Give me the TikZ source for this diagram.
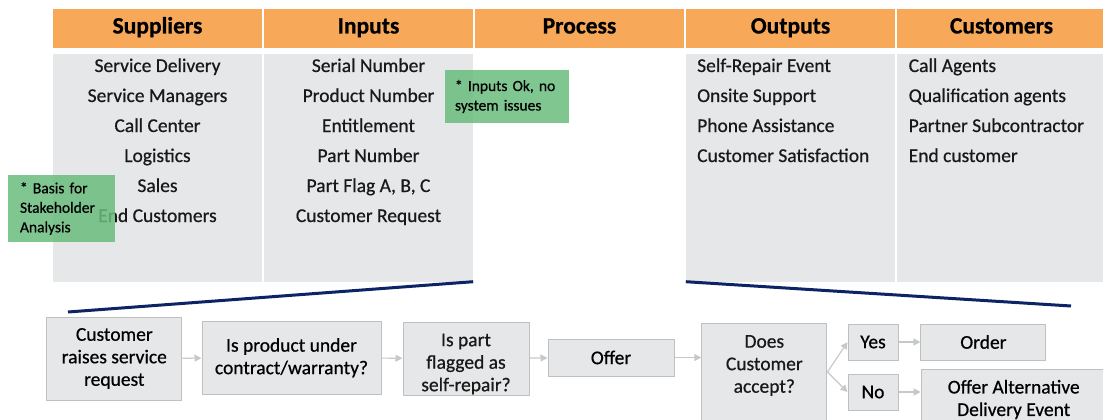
\documentclass[tikz,border=0pt]{standalone}
\usepackage{fontspec}
\setmainfont{Carlito}[FakeBold=0.6]
\usetikzlibrary{arrows.meta}

\definecolor{hdrorange}{RGB}{247,169,89}
\definecolor{cellgray}{RGB}{229,231,233}
\definecolor{flowgray}{RGB}{230,231,232}
\definecolor{flowedge}{RGB}{192,192,192}
\definecolor{notegreen}{RGB}{106,188,126}
\definecolor{linknavy}{RGB}{12,36,102}
\definecolor{arrowgray}{RGB}{200,200,200}

\tikzset{
hdr/.style={
  rectangle,
  fill=hdrorange,
  draw=none,
  inner sep=0pt,
  minimum width=209, minimum height=39,
  text height=15pt, text depth=6pt,
  font=\bfseries\fontsize{23.5}{26}\selectfont,
},
cell/.style={
  rectangle,
  fill=cellgray,
  draw=none,
  minimum width=209, minimum height=227.5,
},
item/.style={
  draw=none,
  inner sep=0em,
  anchor=base,
  text=black!90,
  font=\fontsize{19.5}{22.5}\selectfont,
},
note/.style={
  rectangle,
  fill=notegreen,
  fill opacity=0.85,
  text opacity=1,
  align=left,
  inner ysep=0,
  font=\fontsize{15.5}{19.5}\selectfont,
},
flow/.style={
  rectangle,
  draw=flowedge,
  fill=flowgray,
  line width=1,
  align=center,
  inner sep=0em,
  font=\fontsize{19.5}{22.5}\selectfont,
},
link/.style={draw=linknavy, line width=3},
}

\begin{document}
\begin{tikzpicture}[x=1pt, y=-1pt, >={Triangle[length=7pt, width=7pt]},
  flowarrow/.style={draw=arrowgray, line width=1.2, ->}]
\useasboundingbox (0,0) rectangle (1103,420);
\clip (0,0) rectangle (1103,420);

%header row
\foreach \name/\title [count=\i] in {sup/Suppliers, inp/Inputs, proc/Process, out/Outputs, cust/Customers}
  \node[hdr](h-\name) at ({157.5+211*(\i-1)}, 29) {\title};

%grey columns
\foreach \name/\x in {sup/157.5, inp/368.5, out/790.5, cust/1001.5}
  \node[cell](b-\name) at (\x, 167.75) {};

\foreach \txt [count=\i] in {Service Delivery, Service Managers, Call Center, Logistics, Sales, End Customers}
  \node[item](sup-\i) at (157.5, {72+30*(\i-1)}) {\txt};
\foreach \txt [count=\i] in {Serial Number, Product Number, Entitlement, Part Number, {Part Flag A, B, C}, Customer Request}
  \node[item](inp-\i) at (368.5, {72+30*(\i-1)}) {\txt};
\foreach \txt [count=\i] in {Self-Repair Event, Onsite Support, Phone Assistance, Customer Satisfaction}
  \node[item, anchor=base west](out-\i) at (697, {72+30*(\i-1)}) {\txt};
\foreach \txt [count=\i] in {Call Agents, Qualification agents, Partner Subcontractor, End customer}
  \node[item, anchor=base west](cust-\i) at (908.5, {72+30*(\i-1)}) {\txt};

%notes
\node[note, inner xsep=12, text width=83, minimum height=67](note-sup) at (61.5, 208.5) {* Basis for\\Stakeholder\\Analysis};
\node[note, inner xsep=10, text width=104, minimum height=53](note-inp) at (507, 96.5) {* Inputs Ok, no\\system issues};

%process flow
\node[flow, minimum width=135, minimum height=83](request) at (114.3, 358.5) {Customer\\raises service\\request};
\node[flow, minimum width=179, minimum height=73](contract) at (291.5, 357.7) {Is product under\\contract/warranty?};
\node[flow, minimum width=126, minimum height=73](flagged) at (466, 358.5) {};
\node[item, anchor=center, align=center](flaggedtxt) at (466, 364) {Is part\\flagged as\\self-repair?};
\node[flow, minimum width=126, minimum height=37](offer) at (611, 357.5) {Offer};
\node[flow, minimum width=125, minimum height=120, anchor=north](accept) at (764.3, 322.7) {};
\node[item, anchor=center, align=center](accepttxt) at (764.3, 365.5) {Does\\Customer\\accept?};
\node[flow, minimum width=50, minimum height=36](yes) at (873, 342) {Yes};
\node[flow, minimum width=50, minimum height=36](no) at (873, 392) {No};
\node[flow, minimum width=125, minimum height=36](order) at (983.4, 342) {Order};
\node[flow, minimum width=185, minimum height=60, anchor=north west](alt) at (920.7, 369) {Offer Alternative\\Delivery Event};

\coordinate (fork) at (827.5, 372);
\draw[flowarrow](request) -- (contract);
\draw[flowarrow](contract) -- (flagged);
\draw[flowarrow](flagged) -- (offer);
\draw[flowarrow](offer.east) -- (offer.east -| accept.west);
\draw[flowarrow](fork) -- (yes.west);
\draw[flowarrow](fork) -- (no.west);
\draw[flowarrow](yes) -- (order);
\draw[flowarrow](no.east) -- (no.east -| alt.west);

%zoom lines
\coordinate (pin-l) at (68, 312);
\coordinate (pin-r) at (1071, 306);
\draw[link](b-inp.south east) -- (pin-l);
\draw[link](b-out.south west) -- (pin-r);

\end{tikzpicture}
\end{document}
